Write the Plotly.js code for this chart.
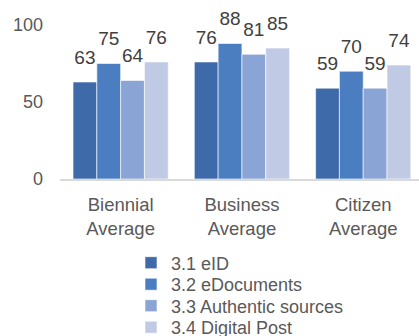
<!DOCTYPE html>
<html><head><meta charset="utf-8">
<script src="https://cdn.plot.ly/plotly-3.0.1.min.js"></script>
<style>html,body{margin:0;padding:0;background:#fff}#c{width:419px;height:336px}</style>
</head><body><div id="c"></div>
<script>
var categories = ['Biennial<br>Average', 'Business<br>Average', 'Citizen<br>Average'];
var seriesNames = ['3.1 eID', '3.2 eDocuments', '3.3 Authentic sources', '3.4 Digital Post'];
var eID = [63, 76, 59];
var eDocuments = [75, 88, 70];
var authenticSources = [64, 81, 59];
var digitalPost = [76, 85, 74];
var yTicks = [0, 50, 100];

var values = [eID, eDocuments, authenticSources, digitalPost];
var colors = ['#3e6aa9', '#4a7ec0', '#8aa4d5', '#c1cae5'];
var FONT = 'Liberation Sans, Arial, sans-serif';
var legendIds = ['legend', 'legend2', 'legend3', 'legend4'];
var legendRowY = [263, 284.5, 306, 327.5];
var data = [];
values.forEach(function (v, i) {
  data.push({
    type: 'bar', x: categories, y: v, name: seriesNames[i],
    offsetgroup: String(i), legend: legendIds[i],
    marker: {color: colors[i], line: {color: 'rgba(255,255,255,0.6)', width: 1}},
    hoverinfo: 'skip'
  });
});
values.forEach(function (v, i) {
  data.push({
    type: 'scatter', mode: 'markers+text', x: categories, y: v,
    text: v.map(String), textposition: 'top center',
    offsetgroup: String(i), showlegend: false, cliponaxis: false,
    marker: {size: 20, opacity: 0},
    textfont: {family: FONT, size: 19, color: '#404040'},
    hoverinfo: 'skip'
  });
});
var layout = {
  width: 419, height: 336,
  margin: {l: 60, r: 0, t: 25, b: 157, autoexpand: false},
  paper_bgcolor: '#fff', plot_bgcolor: '#fff',
  barmode: 'group', bargap: 0.215, bargroupgap: 0,
  scattermode: 'group', scattergap: 0.215,
  font: {family: FONT, size: 18, color: '#595959'},
  showlegend: true,
  xaxis: {
    type: 'category', range: [-0.5, 2.46],
    showline: true, linecolor: '#d9d9d9', linewidth: 1.5,
    showgrid: false, zeroline: false, ticks: '', tickangle: 0,
    ticklabelstandoff: 8,
    tickfont: {family: FONT, size: 18.5, color: '#595959'}
  },
  yaxis: {
    range: [0, 100], tickvals: yTicks, ticktext: yTicks.map(String),
    showline: false, showgrid: false, zeroline: false, ticks: '',
    ticklabelstandoff: 16,
    tickfont: {family: FONT, size: 18, color: '#595959'}
  }
};
legendIds.forEach(function (id, i) {
  layout[id] = {
    xref: 'container', yref: 'container', x: 131 / 419, y: 1 - legendRowY[i] / 336,
    xanchor: 'left', yanchor: 'middle', orientation: 'v',
    font: {family: FONT, size: 18, color: '#595959'},
    bgcolor: 'rgba(0,0,0,0)', borderwidth: 0
  };
});
Plotly.newPlot('c', data, layout, {staticPlot: true, displayModeBar: false});
</script></body></html>
